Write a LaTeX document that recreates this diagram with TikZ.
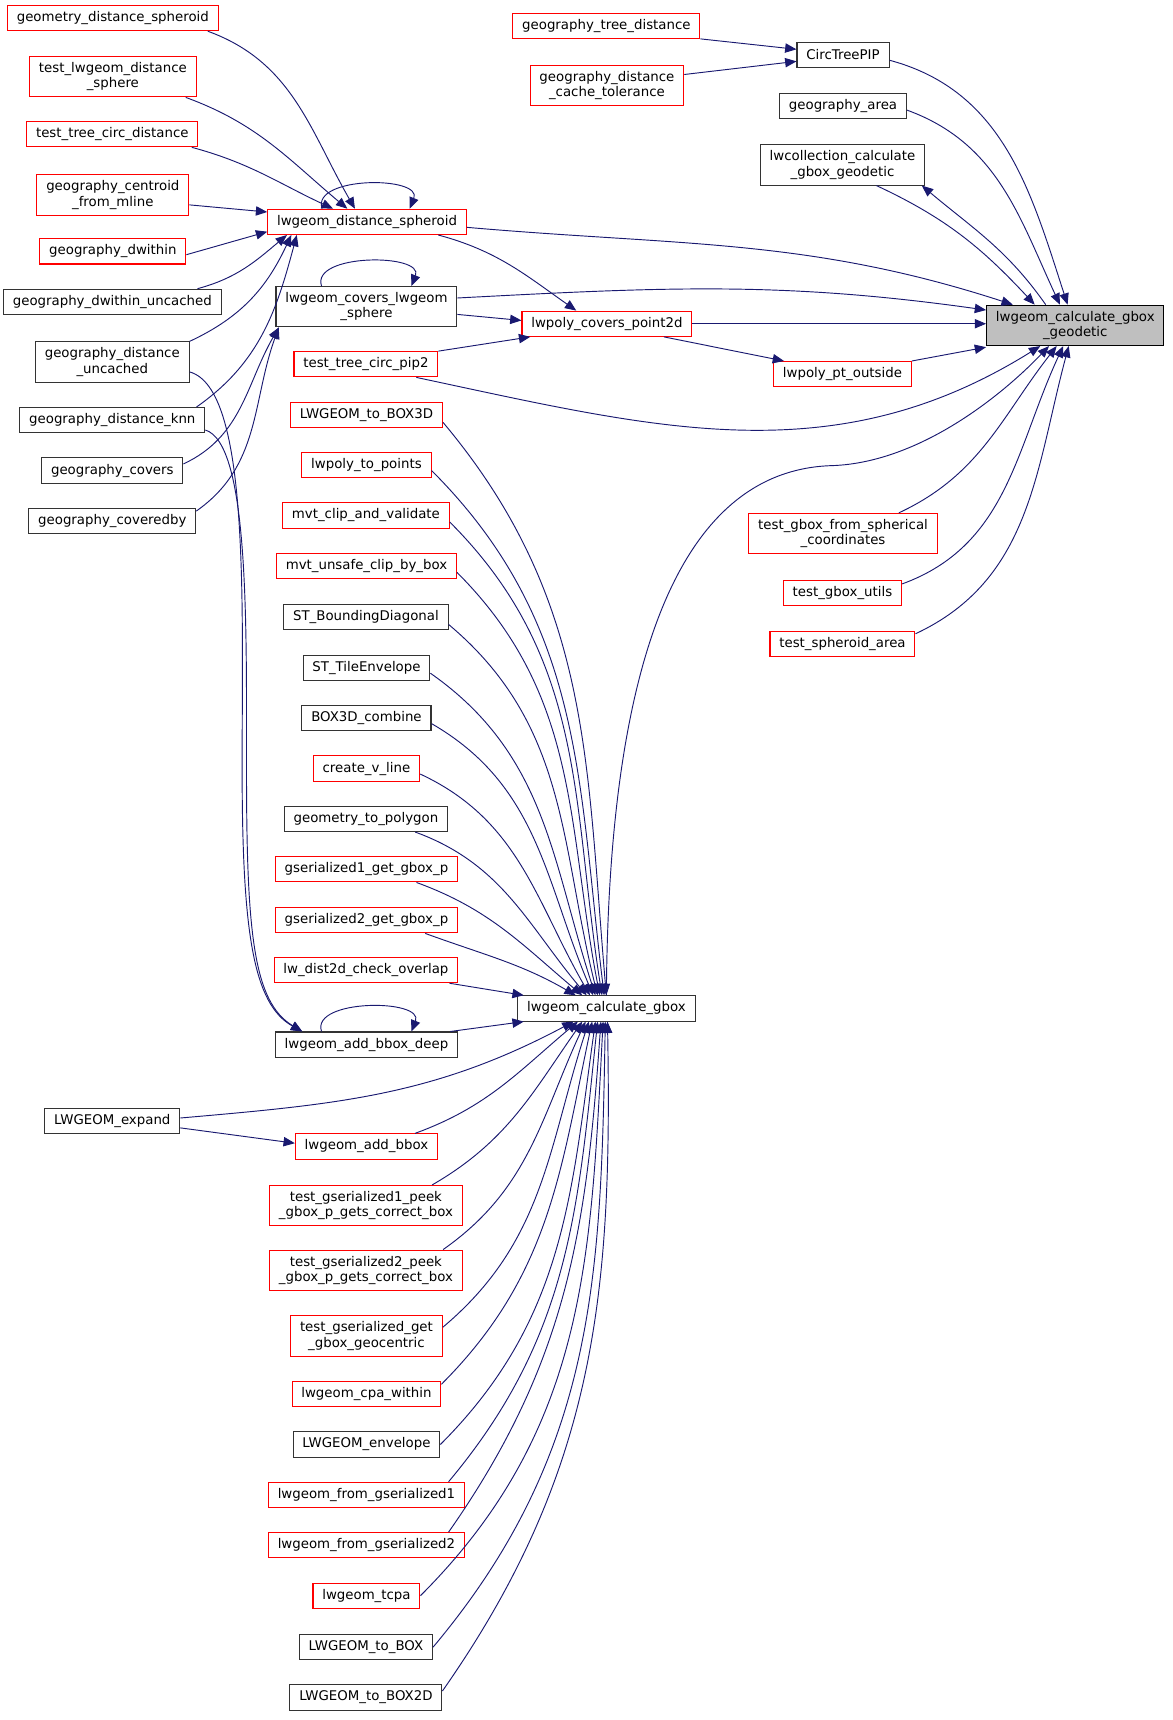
\documentclass[tikz,border=0pt]{standalone}
\usepackage[svgnames]{xcolor}
\usepackage{fontspec}
\setsansfont{DejaVu Sans}
\usetikzlibrary{arrows.meta}
\colorlet{edge}{MidnightBlue}
\colorlet{trunc}{Red}
\definecolor{focus}{gray}{0.75}
\tikzset{
  fn/.style={draw=black!80, fill=white, line width=0.8pt,
    font=\sffamily\fontsize{10}{11.5}\selectfont, align=center,
    inner xsep=7pt, inner ysep=4.4pt, minimum height=18.9pt},
  fntrunc/.style={fn, draw=trunc},
  fnfocus/.style={fn, draw=black, fill=focus},
  call/.style={draw=edge, line width=0.7pt, -{Triangle[length=8.5pt,width=7pt]}}
}

\begin{document}
\begin{tikzpicture}[x=0.8215pt, y=-0.8215pt]
\useasboundingbox (0,0) rectangle (1070,1570);

% right column
\node[fnfocus] (gg) at (981.5,297) {lwgeom\_calculate\_gbox\\\_geodetic};
\node[fn] (ctp) at (769.5,50) {CircTreePIP};
\node[fn] (garea) at (769.5,96.5) {geography\_area};
\node[fn] (lwcoll) at (769,150.5) {lwcollection\_calculate\\\_gbox\_geodetic};
\node[fntrunc] (ppo) at (769,341.5) {lwpoly\_pt\_outside};
\node[fntrunc] (tgsph) at (769.5,487) {test\_gbox\_from\_spherical\\\_coordinates};
\node[fntrunc] (tgu) at (769,541) {test\_gbox\_utils};
\node[fntrunc] (tsa) at (769,587.5) {test\_spheroid\_area};

% middle column
\node[fntrunc] (gtd) at (553.5,23.5) {geography\_tree\_distance};
\node[fntrunc] (gdct) at (554,78) {geography\_distance\\\_cache\_tolerance};
\node[fntrunc] (pcp) at (554,295.5) {lwpoly\_covers\_point2d};
\node[fn] (gb) at (553.5,920.5) {lwgeom\_calculate\_gbox};

% callers of lwgeom_calculate_gbox
\node[fntrunc] (lds) at (335,202.5) {lwgeom\_distance\_spheroid};
\node[fn] (lcs) at (334.5,280) {lwgeom\_covers\_lwgeom\\\_sphere};
\node[fntrunc] (ttcp) at (334,332.5) {test\_tree\_circ\_pip2};
\node[fntrunc] (b3d) at (334.5,378.5) {LWGEOM\_to\_BOX3D};
\node[fntrunc] (topts) at (334.5,424.5) {lwpoly\_to\_points};
\node[fntrunc] (mvtcv) at (334,470.5) {mvt\_clip\_and\_validate};
\node[fntrunc] (mvtuc) at (334.5,516.5) {mvt\_unsafe\_clip\_by\_box};
\node[fn] (bdiag) at (334,563) {ST\_BoundingDiagonal};
\node[fn] (tenv) at (334.5,609.5) {ST\_TileEnvelope};
\node[fn] (b3dc) at (334.5,655.5) {BOX3D\_combine};
\node[fntrunc] (cvl) at (334.5,701.5) {create\_v\_line};
\node[fn] (gtp) at (334,747.5) {geometry\_to\_polygon};
\node[fntrunc] (g1gb) at (334.5,793.5) {gserialized1\_get\_gbox\_p};
\node[fntrunc] (g2gb) at (334.5,840) {gserialized2\_get\_gbox\_p};
\node[fntrunc] (dco) at (334,885.5) {lw\_dist2d\_check\_overlap};
\node[fn] (abd) at (334.5,953.5) {lwgeom\_add\_bbox\_deep};
\node[fntrunc] (abb) at (334.5,1046.5) {lwgeom\_add\_bbox};
\node[fntrunc] (tg1) at (334,1100.5) {test\_gserialized1\_peek\\\_gbox\_p\_gets\_correct\_box};
\node[fntrunc] (tg2) at (334,1159.5) {test\_gserialized2\_peek\\\_gbox\_p\_gets\_correct\_box};
\node[fntrunc] (tggc) at (334.5,1219.5) {test\_gserialized\_get\\\_gbox\_geocentric};
\node[fntrunc] (cpaw) at (334.5,1272.5) {lwgeom\_cpa\_within};
\node[fn] (lenv) at (334.5,1318.5) {LWGEOM\_envelope};
\node[fntrunc] (fg1) at (334.5,1364.5) {lwgeom\_from\_gserialized1};
\node[fntrunc] (fg2) at (334.5,1410.5) {lwgeom\_from\_gserialized2};
\node[fntrunc] (tcpa) at (334.5,1456.5) {lwgeom\_tcpa};
\node[fn] (tobox) at (334,1503.5) {LWGEOM\_to\_BOX};
\node[fn] (tobox2) at (334,1549.5) {LWGEOM\_to\_BOX2D};

% left column
\node[fntrunc] (gds) at (103,16.5) {geometry\_distance\_spheroid};
\node[fntrunc] (tlds) at (103,70) {test\_lwgeom\_distance\\\_sphere};
\node[fntrunc] (ttcd) at (102.5,122.5) {test\_tree\_circ\_distance};
\node[fntrunc] (gcfm) at (103,178) {geography\_centroid\\\_from\_mline};
\node[fntrunc] (gdw) at (103,229.5) {geography\_dwithin};
\node[fn] (gdwu) at (102.5,275.5) {geography\_dwithin\_uncached};
\node[fn] (gdu) at (102.5,330.5) {geography\_distance\\\_uncached};
\node[fn] (gdk) at (102.5,383.5) {geography\_distance\_knn};
\node[fn] (gcov) at (102.5,429.5) {geography\_covers};
\node[fn] (gcby) at (102.5,475.5) {geography\_coveredby};
\node[fn] (lexp) at (102.5,1023.5) {LWGEOM\_expand};

% into lwgeom_calculate_gbox_geodetic
\draw[call] (gtd.south east) -- ([shift={(0,-5)}]ctp.west);
\draw[call] ([shift={(0,-10)}]gdct.east) -- ([shift={(0,6)}]ctp.west);
\draw[call] ([shift={(0,5)}]ctp.east) to[out=-15,in=108] ([shift={(-7,0)}]gg.north);
\draw[call] ([shift={(0,4)}]garea.east) to[out=-20,in=115] ([shift={(-14,0)}]gg.north);
\draw[call] ([shift={(31,0)}]lwcoll.south) to[out=-25,in=133] ([shift={(-37,0)}]gg.north);
\draw[call] ([shift={(-27,0)}]gg.north) to[out=125,in=-40] ([shift={(-3,0)}]lwcoll.south east);
\draw[call] ([shift={(0,5)}]lds.east) to[out=-5,in=162] ([shift={(-57,0)}]gg.north);
\draw[call] ([shift={(0,-8)}]lcs.east) to[out=3,in=172] ([shift={(0,-14)}]gg.west);
\draw[call] (pcp.east) -- (gg.west |- pcp.east);
\draw[call] (ppo.north east) -- ([shift={(0,1)}]gg.south west);
\draw[call] ([shift={(46,0)}]ttcp.south) to[out=-12,in=-148] ([shift={(-32,0)}]gg.south);
\draw[call] (gb.north) .. controls +(2,-350) and +(-120,3) .. (760,425)
  .. controls +(80,-3) and +(-42,44) .. ([shift={(-24,0)}]gg.south);
\draw[call] ([shift={(51,0)}]tgsph.north) to[out=25,in=-128] ([shift={(-17,0)}]gg.south);
\draw[call] ([shift={(0,-8)}]tgu.east) to[out=20,in=-115] ([shift={(-11,0)}]gg.south);
\draw[call] ([shift={(0,-9)}]tsa.east) to[out=25,in=-105] ([shift={(-6,0)}]gg.south);

% lwpoly_covers_point2d and lwpoly_pt_outside
\draw[call] ([shift={(65,0)}]lds.south) to[out=-15,in=145] ([shift={(50,0)}]pcp.north west);
\draw[call] ([shift={(0,7)}]lcs.east) -- ([shift={(0,-3)}]pcp.west);
\draw[call] (ttcp.north east) -- ([shift={(8,0)}]pcp.south west);
\draw[call] ([shift={(52,0)}]pcp.south) -- ([shift={(10,0)}]ppo.north west);

% into lwgeom_distance_spheroid
\draw[call] ([shift={(-10,0)}]gds.south east) to[out=-20,in=120] ([shift={(-11,0)}]lds.north);
\draw[call] ([shift={(-10,0)}]tlds.south east) to[out=-20,in=140] ([shift={(-18,0)}]lds.north);
\draw[call] ([shift={(-6,0)}]ttcd.south east) to[out=-15,in=155] ([shift={(-31,0)}]lds.north);
\draw[call] ([shift={(0,9)}]gcfm.east) -- ([shift={(0,3)}]lds.north west);
\draw[call] ([shift={(0,3)}]gdw.east) -- ([shift={(0,-3)}]lds.south west);
\draw[call] ([shift={(-22,0)}]gdwu.north east) to[out=15,in=-140] ([shift={(18,0)}]lds.south west);
\draw[call] (gdu.north east) to[out=25,in=-115] ([shift={(22,0)}]lds.south west);
\draw[call] ([shift={(-8,0)}]gdk.north east) to[out=35,in=-105] ([shift={(27,0)}]lds.south west);
\draw[call] ([shift={(-41,0)}]lds.north) .. controls +(-10,-30) and +(12,-30) .. ([shift={(39,0)}]lds.north);

% into lwgeom_covers_lwgeom_sphere
\draw[call] ([shift={(0,-6)}]gcov.east) to[out=25,in=-120] ([shift={(3,0)}]lcs.south west);
\draw[call] ([shift={(0,3)}]gcby.north east) to[out=35,in=-110] ([shift={(3,0)}]lcs.south west);
\draw[call] ([shift={(-41,0)}]lcs.north) .. controls +(-10,-30) and +(12,-30) .. ([shift={(41,0)}]lcs.north);

% into lwgeom_add_bbox_deep
\draw[call] ([shift={(0,9)}]gdu.east) .. controls +(55,15) and +(0,-150) .. (221,700)
  .. controls +(0,150) and +(-45,-25) .. ([shift={(25,0)}]abd.north west);
\draw[call] ([shift={(0,-3)}]gdk.south east) .. controls +(40,12) and +(0,-130) .. (225,700)
  .. controls +(0,150) and +(-45,-27) .. ([shift={(25,0)}]abd.north west);
\draw[call] ([shift={(-41,0)}]abd.north) .. controls +(-10,-30) and +(12,-30) .. ([shift={(41,0)}]abd.north);

% into lwgeom_calculate_gbox, from above
\draw[call] ([shift={(0,7)}]b3d.east) to[out=-50,in=95] (gb.north);
\draw[call] ([shift={(0,5)}]topts.east) to[out=-45,in=97] ([shift={(-2,0)}]gb.north);
\draw[call] ([shift={(0,6)}]mvtcv.east) to[out=-45,in=99] ([shift={(-4,0)}]gb.north);
\draw[call] ([shift={(0,6)}]mvtuc.east) to[out=-45,in=101] ([shift={(-6,0)}]gb.north);
\draw[call] ([shift={(0,7)}]bdiag.east) to[out=-40,in=104] ([shift={(-8,0)}]gb.north);
\draw[call] ([shift={(0,5)}]tenv.east) to[out=-35,in=108] ([shift={(-10,0)}]gb.north);
\draw[call] ([shift={(0,5)}]b3dc.east) to[out=-30,in=113] ([shift={(-12,0)}]gb.north);
\draw[call] ([shift={(0,5)}]cvl.east) to[out=-25,in=120] ([shift={(-15,0)}]gb.north);
\draw[call] ([shift={(-30,0)}]gtp.south east) to[out=-20,in=130] ([shift={(-18,0)}]gb.north);
\draw[call] ([shift={(-38,0)}]g1gb.south east) to[out=-20,in=140] ([shift={(-22,0)}]gb.north);
\draw[call] ([shift={(-30,0)}]g2gb.south east) to[out=-20,in=150] ([shift={(-28,0)}]gb.north);
\draw[call] ([shift={(-8,0)}]dco.south east) -- ([shift={(6,0)}]gb.north west);
\draw[call] ([shift={(-7,0)}]abd.north east) -- ([shift={(6,0)}]gb.south west);

% into lwgeom_calculate_gbox, from below
\draw[call] ([shift={(0,-3)}]lexp.east) to[out=5,in=-152] ([shift={(-30,0)}]gb.south);
\draw[call] ([shift={(0,6)}]lexp.east) -- ([shift={(0,-3)}]abb.west);
\draw[call] ([shift={(-21,0)}]abb.north east) to[out=20,in=-140] ([shift={(-26,0)}]gb.south);
\draw[call] ([shift={(-28,0)}]tg1.north east) to[out=30,in=-125] ([shift={(-22,0)}]gb.south);
\draw[call] ([shift={(-18,0)}]tg2.north east) to[out=35,in=-115] ([shift={(-19,0)}]gb.south);
\draw[call] ([shift={(0,-8)}]tggc.east) to[out=40,in=-108] ([shift={(-16,0)}]gb.south);
\draw[call] ([shift={(0,3)}]cpaw.north east) to[out=45,in=-102] ([shift={(-13,0)}]gb.south);
\draw[call] (lenv.east) to[out=45,in=-98] ([shift={(-10,0)}]gb.south);
\draw[call] ([shift={(-15,0)}]fg1.north east) to[out=50,in=-96] ([shift={(-8,0)}]gb.south);
\draw[call] ([shift={(-15,0)}]fg2.north east) to[out=55,in=-94] ([shift={(-5,0)}]gb.south);
\draw[call] (tcpa.east) to[out=45,in=-93] ([shift={(-3,0)}]gb.south);
\draw[call] (tobox.east) to[out=50,in=-91] ([shift={(-1,0)}]gb.south);
\draw[call] ([shift={(0,-6)}]tobox2.east) to[out=55,in=-89] ([shift={(1,0)}]gb.south);
\end{tikzpicture}
\end{document}
